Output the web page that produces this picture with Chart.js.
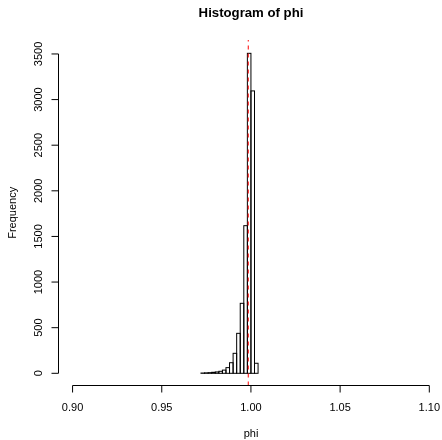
<!DOCTYPE html>
<html>
<head>
<meta charset="utf-8">
<script src="https://cdn.jsdelivr.net/npm/chart.js@4.4.0/dist/chart.umd.min.js"></script>
<style>
html,body{margin:0;padding:0;background:#ffffff;}
#wrap{width:442px;height:440px;position:relative;}
</style>
</head>
<body>
<div id="wrap"><canvas id="c" width="442" height="440"></canvas></div>
<script>
// ---- data ----
const binStarts = [0.972, 0.974, 0.976, 0.978, 0.980, 0.982, 0.984, 0.986,
                   0.988, 0.990, 0.992, 0.994, 0.996, 0.998, 1.000, 1.002];
const binWidth = 0.002;
const counts = [3, 5, 7, 11, 15, 22, 35, 62, 116, 219, 438, 767, 1618, 3507, 3095, 110];
const meanPhi = 0.9985;

const xTicks = [0.90, 0.95, 1.00, 1.05, 1.10];
const xTickLabels = ["0.90", "0.95", "1.00", "1.05", "1.10"];
const yTicks = [0, 500, 1000, 1500, 2000, 2500, 3000, 3500];
const yTickLabels = ["0", "500", "1000", "1500", "2000", "2500", "3000", "3500"];

const titleText = "Histogram of phi";
const xLabelText = "phi";
const yLabelText = "Frequency";

// ---- plot extents (R style 4% extension) ----
const X_MIN = 0.892, X_MAX = 1.10712;
const Y_MIN = -133.7, Y_MAX = 3653;

const FONT = '"Liberation Sans", Arial, Helvetica, sans-serif';

const barData = binStarts.map((s, i) => ({ x: s + binWidth / 2, y: counts[i] }));
const meanLine = [{ x: meanPhi, y: Y_MIN }, { x: meanPhi, y: Y_MAX }];

const rStyle = {
  id: 'rStyle',
  afterDatasetDraw(chart, args) {
    if (args.index !== 0) return;
    const ctx = chart.ctx;
    ctx.save();
    ctx.strokeStyle = '#000000';
    ctx.lineWidth = 1;
    args.meta.data.forEach(el => {
      const p = el.getProps(['x', 'y', 'base', 'width'], true);
      const top = Math.min(p.y, p.base);
      ctx.strokeRect(p.x - p.width / 2, top, p.width, Math.abs(p.base - p.y));
    });
    ctx.restore();
  },
  afterDraw(chart) {
    const ctx = chart.ctx;
    const xs = chart.scales.x, ys = chart.scales.y;
    ctx.save();
    ctx.strokeStyle = '#000000';
    ctx.fillStyle = '#000000';
    ctx.lineWidth = 1;

    // x axis
    const axY = 385.5;
    const x0 = xs.getPixelForValue(xTicks[0]);
    const x1 = xs.getPixelForValue(xTicks[xTicks.length - 1]);
    ctx.beginPath();
    ctx.moveTo(x0, axY); ctx.lineTo(x1, axY);
    xTicks.forEach(v => {
      const px = xs.getPixelForValue(v);
      ctx.moveTo(px, axY); ctx.lineTo(px, axY + 7);
    });
    ctx.stroke();

    // y axis
    const axX = 58.5;
    const y0 = ys.getPixelForValue(yTicks[0]);
    const y1 = ys.getPixelForValue(yTicks[yTicks.length - 1]);
    ctx.beginPath();
    ctx.moveTo(axX, y0); ctx.lineTo(axX, y1);
    yTicks.forEach(v => {
      const py = ys.getPixelForValue(v);
      ctx.moveTo(axX, py); ctx.lineTo(axX - 7, py);
    });
    ctx.stroke();

    // tick labels
    ctx.font = '11px ' + FONT;
    ctx.textAlign = 'center';
    ctx.textBaseline = 'alphabetic';
    xTicks.forEach((v, i) => {
      ctx.fillText(xTickLabels[i], xs.getPixelForValue(v), 410.5);
    });
    yTicks.forEach((v, i) => {
      ctx.save();
      ctx.translate(42, ys.getPixelForValue(v));
      ctx.rotate(-Math.PI / 2);
      ctx.fillText(yTickLabels[i], 0, 0);
      ctx.restore();
    });

    // axis titles
    ctx.fillText(xLabelText, 251, 436.5);
    ctx.save();
    ctx.translate(15.5, 212.8);
    ctx.rotate(-Math.PI / 2);
    ctx.fillText(yLabelText, 0, 0);
    ctx.restore();

    // main title
    ctx.font = 'bold 13.2px ' + FONT;
    ctx.fillText(titleText, 251, 17);
    ctx.restore();
  }
};

new Chart(document.getElementById('c'), {
  data: {
    datasets: [
      {
        type: 'bar',
        label: 'phi',
        data: barData,
        backgroundColor: 'rgba(0,0,0,0)',
        borderWidth: 0,
        barPercentage: 1,
        categoryPercentage: 1,
        inflateAmount: 0,
        order: 2
      },
      {
        type: 'line',
        label: 'mean',
        data: meanLine,
        borderColor: '#ff0000',
        borderWidth: 1,
        borderDash: [4, 4],
        pointRadius: 0,
        fill: false,
        order: 1
      }
    ]
  },
  options: {
    responsive: false,
    maintainAspectRatio: false,
    animation: false,
    devicePixelRatio: 1,
    layout: { padding: { left: 58.3, right: 0, top: 40, bottom: 54.5 } },
    plugins: { legend: { display: false }, title: { display: false }, tooltip: { enabled: false } },
    scales: {
      x: { type: 'linear', min: X_MIN, max: X_MAX, offset: false, display: false },
      y: { type: 'linear', min: Y_MIN, max: Y_MAX, display: false }
    }
  },
  plugins: [rStyle]
});
</script>
</body>
</html>
